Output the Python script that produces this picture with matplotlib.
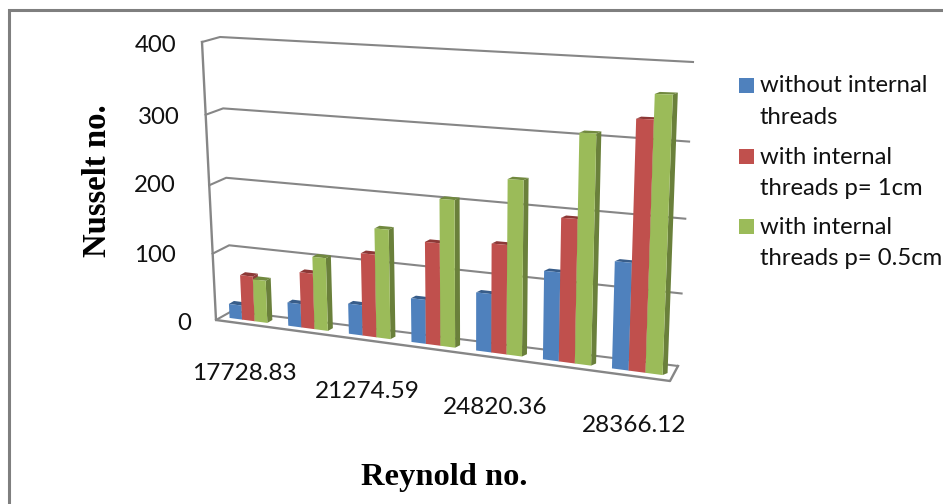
import numpy as np
import matplotlib
matplotlib.use("Agg")
import matplotlib.pyplot as plt
from matplotlib.transforms import Transform

categories = ["17728.83", "", "21274.59", "", "24820.36", "", "28366.12"]
without_threads = [21, 34, 43, 61, 79, 117, 138]
threads_1cm = [66, 80, 116, 140, 146, 187, 314]
threads_05cm = [62, 104, 152, 199, 231, 294, 344]
series_names = ["without internal\nthreads", "with internal\nthreads p= 1cm", "with internal\nthreads p= 0.5cm"]
y_ticks = [0, 100, 200, 300, 400]

FACE = ["#4F81BD", "#C0504D", "#9BBB59"]
TOP = ["#385D8A", "#8C3836", "#71893F"]
SIDE = ["#3A6190", "#8F3B38", "#6A803B"]
GRID = "#868686"
FONT = "Lato"
BOW = 0.008


class Homography(Transform):
    input_dims = 2
    output_dims = 2
    is_separable = False
    has_inverse = False

    def __init__(self, src_x, src_y, corners):
        super().__init__()
        x0, x1 = src_x
        y0, y1 = src_y
        src = [(x0, y0), (x1, y0), (x1, y1), (x0, y1)]
        A, b = [], []
        for (u, v), (X, Y) in zip(src, corners):
            A.append([u, v, 1, 0, 0, 0, -u * X, -v * X]); b.append(X)
            A.append([0, 0, 0, u, v, 1, -u * Y, -v * Y]); b.append(Y)
        h = np.linalg.solve(np.array(A, float), np.array(b, float))
        self.H = np.append(h, 1).reshape(3, 3)

    def transform_non_affine(self, values):
        p = np.c_[values, np.ones(len(values))] @ self.H.T
        return p[:, :2] / p[:, 2:3]


fig = plt.figure(figsize=(9.43, 5.04), dpi=100, facecolor="white")
ax = fig.add_axes([0, 0, 1, 1])
ax.set_xlim(0, 943)
ax.set_ylim(504, 0)
ax.axis("off")

# outer frame
ax.plot([8.5, 8.5, 943], [504, 9.5, 9.5], color="#7F7F7F", lw=2.2, solid_joinstyle="miter")

ymax = y_ticks[-1]
wall = Homography((0, 1), (0, ymax), [(232, 311), (678, 366), (693, 62), (220, 37)])
front_edge = Homography((0, 1), (0, ymax), [(216, 320), (670, 381), (687, 67), (202, 42)])

# walls and floor
for v in y_ticks:
    a = front_edge.transform_non_affine(np.array([[0, v]]))[0]
    b = wall.transform_non_affine(np.array([[0, v], [1, v]]))
    ax.plot([a[0], b[0, 0], b[1, 0]], [a[1], b[0, 1], b[1, 1]], color=GRID, lw=1.5, zorder=1)
edge = front_edge.transform_non_affine(np.array([[0, ymax], [0, 0], [1, 0]]))
back_r = wall.transform_non_affine(np.array([[1, 0]]))[0]
ax.plot([*edge[:, 0], back_r[0]], [*edge[:, 1], back_r[1]], color=GRID, lw=1.7, zorder=1)

# bars
n = len(categories)
w = 0.225
front = Homography((-0.33, n - 1 + 0.33), (0, ymax),
                   [(230, 318), (662, 375), (674, 46), (217, 38)])
back = Homography((-0.33, n - 1 + 0.33), (0, ymax),
                  [(235, 315), (667, 373), (679, 44), (222, 35)])

z = 2
for s, vals in enumerate([without_threads, threads_1cm, threads_05cm]):
    for c, v in enumerate(vals):
        x0 = c + BOW * c * (n - 1 - c) + (s - 1.5) * w
        x1 = x0 + w
        f = front.transform_non_affine(np.array([[x0, v], [x1, v], [x1, 0]]))
        g = back.transform_non_affine(np.array([[x0, v], [x1, v], [x1, 0]]))
        ax.fill([f[0, 0], f[1, 0], g[1, 0], g[0, 0]], [f[0, 1], f[1, 1], g[1, 1], g[0, 1]],
                color=TOP[s], lw=0, zorder=z)
        ax.fill([f[1, 0], f[2, 0], g[2, 0], g[1, 0]], [f[1, 1], f[2, 1], g[2, 1], g[1, 1]],
                color=SIDE[s], lw=0, zorder=z)
        ax.bar(x0, v, w, align="edge", bottom=0, color=FACE[s], lw=0,
               transform=front + ax.transData, zorder=z + 0.1)
    z += 1

# tick labels
for v, (xr, yc) in zip(y_ticks, [(191, 323), (176, 255), (176, 186), (180, 117), (176, 46)]):
    ax.text(xr, yc, str(v), ha="right", va="center", fontsize=17.3, family=FONT, color="#111111")
for lab, (xc, yc) in zip([c for c in categories if c],
                         [(244, 374), (367, 392), (495, 407), (634, 426)]):
    ax.text(xc, yc, lab, ha="center", va="center", fontsize=17.6, family=FONT, color="#111111")

# legend
for s, (name, yc) in enumerate(zip(series_names, [85, 156, 226])):
    ax.add_patch(plt.Rectangle((739, yc - 7.5), 15, 15, color=FACE[s], lw=0))
    a, b = name.split("\n")
    ax.text(760, yc + 1, a, va="center", ha="left", fontsize=17.2, family=FONT, color="#111111")
    ax.text(760, yc + 32.5, b, va="center", ha="left", fontsize=17.2, family=FONT, color="#111111")

# axis titles
ax.text(444, 478, "Reynold no.", ha="center", va="center", fontsize=23.4, weight="bold",
        family="Liberation Serif", color="black")
ax.text(98, 181, "Nusselt no.", ha="center", va="center", rotation=90, fontsize=23.6,
        weight="bold", family="Liberation Serif", color="black")

fig.savefig("out.png", dpi=100)
